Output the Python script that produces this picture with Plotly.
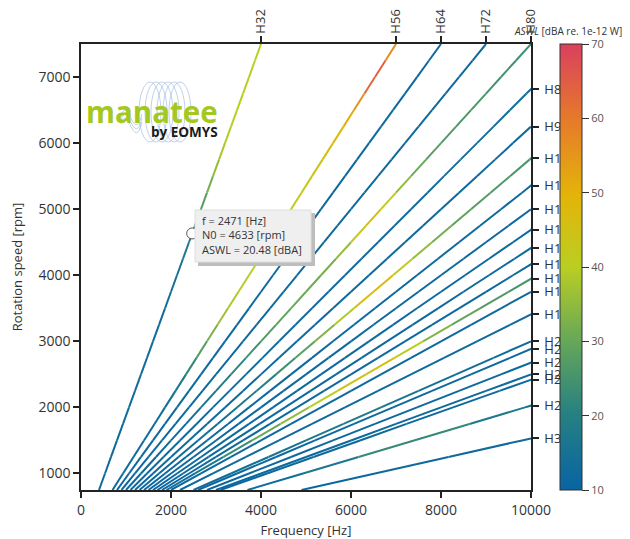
import plotly.graph_objects as go
from plotly.colors import sample_colorscale

# ---------------- data ----------------
speeds = [750, 1000, 1250, 1500, 1750, 2000, 2250, 2500, 2750, 3000, 3250, 3500,
          3750, 4000, 4250, 4500, 4750, 5000, 5250, 5500, 5750, 6000, 6250, 6500,
          6750, 7000, 7250, 7500]

orders = [32, 56, 64, 72, 80, 88, 96, 104, 112, 120, 128, 136, 144, 152, 160,
          176, 200, 208, 224, 240, 248, 296, 392]

aswl_H32 = [12, 12, 12.5, 12, 12.5, 13, 12.5, 13, 13, 13.5, 13, 13.5, 14, 14.5,
            15.5, 18, 22, 26, 30, 34, 37, 39, 40, 40, 40.5, 40, 40, 40]
aswl_H56 = [12, 12, 12, 12.5, 13, 14, 15, 19, 25, 30, 35, 38, 39, 40, 40, 40,
            40, 41, 42, 44, 45, 46, 49, 53, 59, 68, 60, 53]
aswl_H64 = [11, 11.5, 11, 12, 11.5, 12, 12, 12.5, 12, 12, 12.5, 12, 12, 12.5,
            13, 12.5, 12, 12, 12.5, 12, 12, 12.5, 13, 12.5, 12, 12, 12.5, 12]
aswl_H72 = [11, 11, 11.5, 12, 12, 12.5, 12, 12, 12, 12.5, 12, 12.5, 13, 12.5,
            12, 12, 12.5, 12, 12, 12.5, 12, 12, 12.5, 12, 12, 12.5, 12, 12]
aswl_H80 = [12, 12, 12.5, 13, 13.5, 15, 17, 20, 23, 26, 28, 30, 31, 31, 33,
            38, 45, 46, 38, 32, 29, 27, 26.5, 26, 25.5, 25, 24.5, 24]
aswl_H88 = [11, 11.5, 12, 12, 12.5, 12, 12.5, 13, 13, 12.5, 13, 13, 12.5, 13,
            13, 13.5, 13, 13, 12.5, 13, 13, 12.5, 13, 13, 12.5, 13]
aswl_H96 = [11, 11.5, 12, 12, 12, 12.5, 12, 12, 12.5, 13, 12.5, 12, 12, 12.5,
            12, 12, 12.5, 12, 12, 12.5, 12, 12, 12]
aswl_H104 = [12, 12, 12.5, 13, 14, 16, 19, 22, 26, 30, 36, 42, 50, 45, 38, 33,
             30, 28, 27, 26, 25, 25]
aswl_H112 = [11, 11.5, 12, 12, 12, 12.5, 12, 12, 12.5, 12, 12, 12.5, 12, 12,
             12.5, 12, 12, 12, 12.5, 12]
aswl_H120 = [11, 11.5, 12, 12, 12.5, 12, 12, 12.5, 12, 12, 12.5, 12, 12, 12.5,
             12, 12, 12, 12.5]
aswl_H128 = [11, 11.5, 12, 12, 12.5, 12, 12, 12.5, 12, 12, 12.5, 12, 12, 12.5,
             12, 12, 12]
aswl_H136 = [11, 11.5, 12, 12, 12.5, 12, 12, 12.5, 12, 12, 12.5, 12, 12, 12.5,
             12, 12]
aswl_H144 = [11, 11.5, 12, 12, 12.5, 12, 12, 12.5, 12, 12, 12.5, 12, 12, 12.5,
             12]
aswl_H152 = [13, 15, 20, 27, 33, 38, 42, 48, 44, 36, 31, 28, 26, 25]
aswl_H160 = [11, 11.5, 12, 12, 12.5, 12, 12, 12.5, 12, 12, 12.5, 12, 12]
aswl_H176 = [11, 11.5, 12, 12, 12.5, 12, 12, 12.5, 12, 12, 12.5, 12]
aswl_H200 = [12, 13, 15, 17, 18, 17, 15, 14, 13, 13]
aswl_H208 = [11, 11.5, 12, 12, 12.5, 12, 12, 12.5, 12, 12]
aswl_H224 = [11, 11.5, 12, 12, 12.5, 12, 12, 12.5, 12]
aswl_H240 = [11, 11.5, 12, 12, 12.5, 12, 12, 12.5]
aswl_H248 = [11, 11.5, 12, 12, 12.5, 12, 12, 12.5]
aswl_H296 = [12, 14, 20, 25, 20, 15, 13]
aswl_H392 = [11, 11.5, 12, 12, 12.5]

top_orders = [32, 56, 64, 72, 80]
right_orders = [88, 96, 104, 112, 120, 128, 136, 144, 152, 160, 176, 200, 208,
                224, 240, 248, 296, 392]

cursor_f = 2471
cursor_n = 4633
cursor_aswl = 20.48

x_ticks = [0, 2000, 4000, 6000, 8000, 10000]
x_ticktext = ["0", "2000", "4000", "6000", "8000", "10000"]
y_ticks = [1000, 2000, 3000, 4000, 5000, 6000, 7000]
cbar_ticks = [10, 20, 30, 40, 50, 60, 70]
cmin, cmax = 10, 70
f_max = 10000
n_range = [750, 7500]

colorscale = [
    [0.0, "rgb(8,100,164)"],
    [0.17, "rgb(38,128,130)"],
    [0.33, "rgb(100,166,90)"],
    [0.5, "rgb(186,206,34)"],
    [0.66, "rgb(228,180,10)"],
    [0.83, "rgb(230,122,42)"],
    [1.0, "rgb(218,64,94)"],
]

aswl_series = [aswl_H32, aswl_H56, aswl_H64, aswl_H72, aswl_H80, aswl_H88,
               aswl_H96, aswl_H104, aswl_H112, aswl_H120, aswl_H128, aswl_H136,
               aswl_H144, aswl_H152, aswl_H160, aswl_H176, aswl_H200, aswl_H208,
               aswl_H224, aswl_H240, aswl_H248, aswl_H296, aswl_H392]

FONT = "Open Sans"
TXT = "#333333"

# ---------------- figure ----------------
fig = go.Figure()

bins = {}
for H, vals in zip(orders, aswl_series):
    for k in range(len(vals) - 1):
        n0, n1 = speeds[k], speeds[k + 1]
        v = 0.5 * (vals[k] + vals[k + 1])
        key = round(v * 2) / 2
        xs, ys = bins.setdefault(key, ([], []))
        xs += [H * n0 / 60.0, H * n1 / 60.0, None]
        ys += [n0, n1, None]

for key in sorted(bins):
    xs, ys = bins[key]
    frac = min(max((key - cmin) / (cmax - cmin), 0), 1)
    col = sample_colorscale(colorscale, [frac])[0]
    fig.add_trace(go.Scatter(x=xs, y=ys, mode="lines",
                             line=dict(color=col, width=2),
                             hoverinfo="skip", showlegend=False))

# colorbar carrier
fig.add_trace(go.Scatter(
    x=[None], y=[None], mode="markers", showlegend=False, hoverinfo="skip",
    marker=dict(color=[cmin], cmin=cmin, cmax=cmax, colorscale=colorscale,
                showscale=True,
                colorbar=dict(thickness=22, thicknessmode="pixels", len=1,
                              lenmode="fraction", x=1.064, xanchor="left",
                              xpad=0, y=0.5, yanchor="middle", ypad=0,
                              outlinecolor="#333", outlinewidth=1,
                              tickvals=cbar_ticks, ticks="outside", ticklen=7,
                              tickcolor="#333",
                              tickfont=dict(family=FONT, size=11, color="#555"),
                              bgcolor="rgba(0,0,0,0)"))))

# cursor point
fig.add_trace(go.Scatter(x=[cursor_f], y=[cursor_n], mode="markers",
                         marker=dict(symbol="circle", size=11, color="white",
                                     line=dict(color="#555", width=1)),
                         hoverinfo="skip", showlegend=False))

# overlay axes carrier
fig.add_trace(go.Scatter(x=[None], y=[None], xaxis="x2", yaxis="y2",
                         showlegend=False, hoverinfo="skip"))

axis_common = dict(showline=True, linecolor="#222", linewidth=1.5,
                   ticks="outside", ticklen=6, tickwidth=1.5, tickcolor="#222",
                   showgrid=False, zeroline=False, automargin=False)

fig.update_layout(
    width=622, height=531,
    margin=dict(l=73, r=99, t=36, b=49),
    paper_bgcolor="white", plot_bgcolor="white",
    font=dict(family=FONT, color=TXT),
    xaxis=dict(range=[0, f_max], tickvals=x_ticks, ticktext=x_ticktext,
               tickfont=dict(size=14, color=TXT),
               title=dict(text="Frequency [Hz]", font=dict(size=13, color=TXT),
                          standoff=8),
               **axis_common),
    yaxis=dict(range=n_range, tickvals=y_ticks,
               tickfont=dict(size=14, color=TXT),
               title=dict(text="Rotation speed [rpm]",
                          font=dict(size=13, color=TXT), standoff=20),
               **axis_common),
    xaxis2=dict(overlaying="x", side="top", anchor="y", range=[0, f_max],
                tickvals=[H * n_range[1] / 60.0 for H in top_orders],
                ticktext=["H%d" % H for H in top_orders], tickangle=-90,
                tickfont=dict(size=13, color=TXT), **axis_common),
    yaxis2=dict(overlaying="y", side="right", anchor="x", range=n_range,
                tickvals=[f_max * 60.0 / H for H in right_orders],
                ticktext=["H%d" % H for H in right_orders],
                ticklabelstandoff=3,
                tickfont=dict(size=13, color=TXT), **axis_common),
)

W, Ht = 450.0, 446.0
L, T = 81.0, 44.0


def px(x):
    return (x - L) / W


def py(y):
    return (T + Ht - y) / Ht


shapes = []
# logo coil (decoration)
for i, cx in enumerate([150, 156, 162, 168, 174, 180]):
    shapes.append(dict(type="circle", xref="paper", yref="paper",
                       x0=px(cx - 11), x1=px(cx + 11), y0=py(142), y1=py(82),
                       line=dict(color="rgba(140,175,220,0.7)", width=0.8),
                       layer="below"))
for dy in [0, 4, 8]:
    path = "M %.4f,%.4f C %.4f,%.4f %.4f,%.4f %.4f,%.4f" % (
        px(121), py(116 + dy), px(128), py(94 + dy), px(134), py(146 + dy),
        px(142), py(114 + dy))
    shapes.append(dict(type="path", xref="paper", yref="paper", path=path,
                       line=dict(color="rgba(140,175,220,0.7)", width=0.8),
                       layer="below"))

# info box with shadow
shapes.append(dict(type="rect", xref="paper", yref="paper",
                   x0=px(198), x1=px(315), y0=py(266), y1=py(213),
                   fillcolor="#bdbdbd", line=dict(width=0)))
shapes.append(dict(type="rect", xref="paper", yref="paper",
                   x0=px(195), x1=px(311), y0=py(262), y1=py(210),
                   fillcolor="#efefef", line=dict(color="#dedede", width=1)))
fig.update_layout(shapes=shapes)

ann = []
ann.append(dict(xref="paper", yref="paper", x=px(200), y=py(211),
                xanchor="left", yanchor="top", align="left", showarrow=False,
                text="f = %d [Hz]<br>N0 = %d [rpm]<br>ASWL = %.2f [dBA]" % (
                    cursor_f, cursor_n, cursor_aswl),
                font=dict(size=11, color=TXT, family=FONT)))
ann.append(dict(xref="paper", yref="paper", x=px(512), y=py(31),
                xanchor="left", yanchor="middle", showarrow=False,
                text="<i>ASWL</i> [dBA re. 1e-12 W]",
                font=dict(size=10, color=TXT, family=FONT)))
ann.append(dict(xref="paper", yref="paper", x=px(84), y=py(111),
                xanchor="left", yanchor="middle", showarrow=False,
                text="<b>manatee</b>",
                font=dict(size=29.5, color="#a5c81f", family=FONT)))
ann.append(dict(xref="paper", yref="paper", x=px(149), y=py(132),
                xanchor="left", yanchor="middle", showarrow=False,
                text="<b>by EOMYS</b>",
                font=dict(size=13.5, color="#1a1a1a", family=FONT)))
fig.update_layout(annotations=ann)

fig.write_html("out.html")
